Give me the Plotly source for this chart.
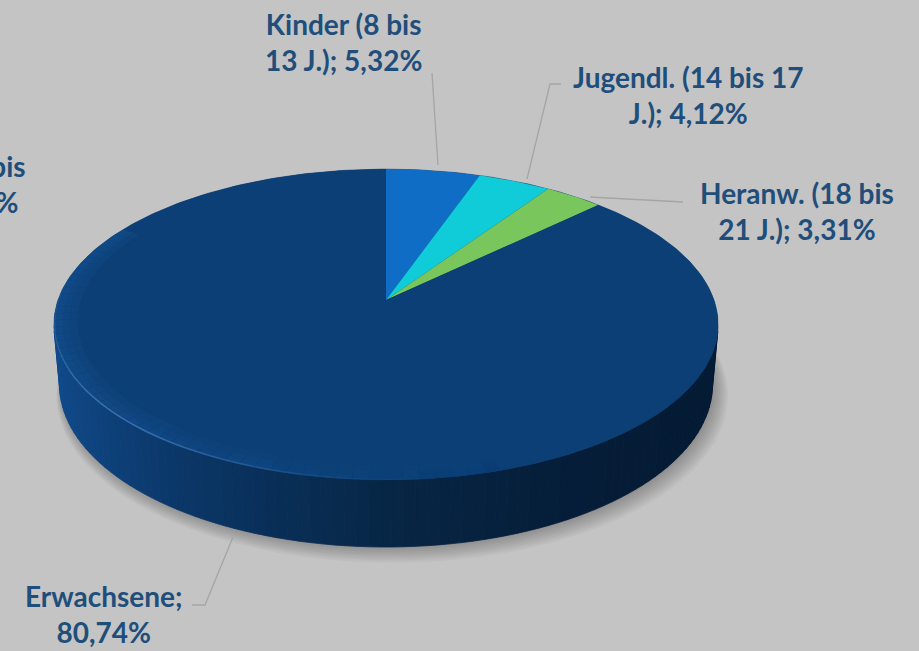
import numpy as np
import plotly.graph_objects as go

# ---- data -------------------------------------------------------------
categories = ["Kinder (8 bis 13 J.)", "Jugendl. (14 bis 17 J.)",
              "Heranw. (18 bis 21 J.)", "Erwachsene", "Kinder (0 bis 7 J.)"]
shares = [5.32, 4.12, 3.31, 80.74, 6.51]          # percent
label_heads = ["Kinder (8 bis", "Jugendl. (14 bis 17", "Heranw. (18 bis",
               "Erwachsene;", "Kinder (0 bis"]
label_tails = ["13 J.);", "J.);", "21 J.);", "", "7 J.);"]

# ---- styling ----------------------------------------------------------
slice_colors = ["#0f6dc5", "#10ccd8", "#79c65c", "#0c3f75", "#0c3f75"]
bg = "#c4c4c4"
text_color = "#1f4e7b"
W, H = 919, 651

# perspective camera for the tilted disc
CX, CY = 386.0, 300.0      # projected disc centre (px)
S = 328.0                  # radius scale (px)
SIN_E = 0.462
COS_E = float(np.sqrt(1 - SIN_E ** 2))
D = 5.63                   # camera distance (in radii)
THICK = 0.209              # disc thickness (in radii)

label_pos = [(343, 42, "center"), (688, 95, "center"), (797, 211, "center"),
             (104, 614, "center"), (28, 184, "right")]
leader_paths = [[(438, 165), (432, 73)],
                [(527, 179), (550, 84), (561, 84)],
                [(590, 197), (683, 202)],
                [(233, 537), (205, 605), (192, 605)],
                None]


def proj(u, v, z):
    depth = D - v * COS_E - z * SIN_E
    f = D / depth
    x = CX + S * u * f
    y = CY - S * (-v * SIN_E + z * COS_E) * f
    return x, y


def rim(theta_deg, r=1.0, z=0.0):
    t = np.radians(np.asarray(theta_deg, dtype=float))
    return proj(r * np.sin(t), -r * np.cos(t), z)


def hex2rgb(h):
    h = h.lstrip("#")
    return np.array([int(h[i:i + 2], 16) for i in (0, 2, 4)], dtype=float)


def lerp_color(stops, t):
    for (p0, c0), (p1, c1) in zip(stops[:-1], stops[1:]):
        if p0 <= t <= p1:
            k = (t - p0) / (p1 - p0) if p1 > p0 else 0
            c = hex2rgb(c0) * (1 - k) + hex2rgb(c1) * k
            return "rgb(%d,%d,%d)" % tuple(np.round(c))
    return stops[-1][1] if t > stops[-1][0] else stops[0][1]


fig = go.Figure()


def poly(xs, ys, color, line_color=None, lw=0):
    fig.add_trace(go.Scatter(
        x=list(xs) + [xs[0]], y=list(ys) + [ys[0]], mode="lines",
        fill="toself", fillcolor=color,
        line=dict(color=line_color or color, width=lw),
        hoverinfo="skip", showlegend=False))


# ---- soft drop shadow under the base --------------------------------
th_all = np.linspace(0, 360, 361)
for k in range(8):
    bx, by = rim(th_all, r=1.0 + 0.004 * k, z=-THICK)
    poly(bx + 2 + 0.6 * k, by + 1 + 1.2 * k, "rgba(0,0,0,0.035)")

# ---- side wall (front half only) ------------------------------------
v_edge = 1.0 / (D * COS_E)
t_edge = np.degrees(np.arccos(-v_edge))           # right silhouette
wall_theta = np.linspace(t_edge, 360 - t_edge, 90)
wall_stops = [(-1.0, "#104b8c"), (-0.55, "#0b3768"), (0.0, "#072645"),
              (0.5, "#051d38"), (1.0, "#041a33")]
for a, b in zip(wall_theta[:-1], wall_theta[1:]):
    seg = np.linspace(a, b, 3)
    tx, ty = rim(seg)
    bx, by = rim(seg[::-1], z=-THICK)
    u_mid = np.sin(np.radians((a + b) / 2))
    col = lerp_color(wall_stops, u_mid)
    poly(np.r_[tx, bx], np.r_[ty, by], col, col, 0.8)

# ---- top face: base disc, then the slices ----------------------------
tx_all, ty_all = rim(th_all)
poly(tx_all, ty_all, slice_colors[3], slice_colors[3], 0.5)

bounds = np.r_[0, np.cumsum(shares)] * 3.6
cx0, cy0 = proj(0, 0, 0)
for i, color in enumerate(slice_colors):
    a, b = bounds[i], bounds[i + 1]
    arc = np.linspace(a, b, max(int((b - a) * 2), 3))
    ax_, ay_ = rim(arc)
    poly(np.r_[cx0, ax_], np.r_[cy0, ay_], color, "rgba(0,0,0,0)", 0)

# ---- bevel: soft lighting near the front rim -------------------------
band_theta = np.linspace(100, 300, 81)
for r_in in (0.93, 0.955, 0.975):
    for a, b in zip(band_theta[:-1], band_theta[1:]):
        seg = np.linspace(a, b, 3)
        ox, oy = rim(seg, 1.0)
        ix, iy = rim(seg[::-1], r_in)
        u_mid = np.sin(np.radians((a + b) / 2))
        alpha = float(np.clip(0.02 - 0.06 * u_mid, 0.0, 0.08))
        poly(np.r_[ox, ix], np.r_[oy, iy], "rgba(40,115,200,%.3f)" % alpha,
             "rgba(0,0,0,0)", 0)

hl_theta = np.linspace(160, 290, 66)
for a, b in zip(hl_theta[:-1], hl_theta[1:]):
    hx, hy = rim([a, b], 0.998)
    mid = (a + b) / 2
    alpha = 0.45 * np.exp(-((mid - 228) / 32) ** 2)
    fig.add_trace(go.Scatter(x=hx, y=hy, mode="lines",
                             line=dict(color="rgba(110,165,225,%.3f)" % alpha, width=1.6),
                             hoverinfo="skip", showlegend=False))

# ---- leader lines and labels ----------------------------------------
for path in leader_paths:
    if path is None:
        continue
    xs, ys = zip(*path)
    fig.add_trace(go.Scatter(x=xs, y=ys, mode="lines",
                             line=dict(color="#a5a5a5", width=1.3),
                             hoverinfo="skip", showlegend=False))

for head, tail, val, (lx, ly, anchor) in zip(label_heads, label_tails, shares, label_pos):
    pct = ("%.2f" % val).replace(".", ",") + "%"
    second = (tail + " " + pct).strip()
    fig.add_annotation(x=lx, y=ly, xref="x", yref="y", xanchor=anchor,
                       yanchor="middle", showarrow=False, align="center",
                       text="<b>%s<br>%s</b>" % (head, second),
                       font=dict(family="Lato", size=28, color=text_color))

fig.update_layout(
    width=W, height=H, margin=dict(l=0, r=0, t=0, b=0),
    paper_bgcolor=bg, plot_bgcolor=bg, showlegend=False, hovermode=False,
    xaxis=dict(range=[0, W], visible=False, fixedrange=True),
    yaxis=dict(range=[H, 0], visible=False, fixedrange=True),
)

fig.write_html("out.html")
